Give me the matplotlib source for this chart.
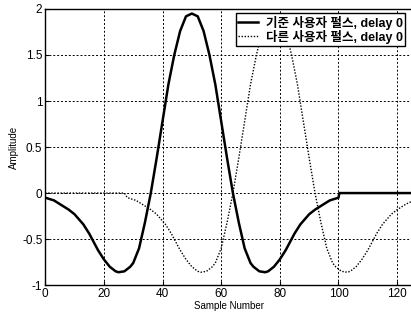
import matplotlib
matplotlib.use("Agg")
import matplotlib.pyplot as plt

# Reference user pulse (solid)
ref_x = [0, 3, 5, 8, 10, 13, 15, 17, 18, 20, 22, 24, 25, 27, 29, 30, 32, 34, 36, 38, 40, 42, 44, 46, 48, 50,
         52, 54, 56, 58, 60, 62, 64, 66, 68, 70, 71, 73, 75, 76, 78, 80, 82, 83, 85, 87, 90, 92, 95, 97, 100, 100.3, 125]
ref_y = [-0.05, -0.08, -0.12, -0.18, -0.23, -0.34, -0.44, -0.56, -0.62, -0.72, -0.80, -0.85, -0.86, -0.85,
         -0.80, -0.76, -0.60, -0.32,
         0.0, 0.38, 0.78, 1.18, 1.50, 1.76, 1.92, 1.95,
         1.92, 1.76, 1.50, 1.18, 0.78, 0.38, 0.0, -0.32, -0.60, -0.76, -0.80, -0.85, -0.86, -0.85, -0.80,
         -0.72, -0.62, -0.56, -0.44, -0.34, -0.23, -0.18, -0.12, -0.08, -0.05, 0.0, 0.0]

# Other user pulse (dotted)
oth_x = [0, 27, 28, 31, 33, 36, 38, 41, 43, 45, 46, 48, 50, 52, 53, 55, 57, 58, 60, 62, 64, 66, 68, 70, 72, 74, 76,
         78, 80, 82, 84, 86, 88, 90, 92, 94, 96, 98, 99, 101, 103, 104, 106, 108, 110, 111, 113, 115, 118, 120, 123, 125]
oth_y = [0.0, 0.0, -0.05, -0.08, -0.12, -0.18, -0.23, -0.34, -0.44, -0.56, -0.62, -0.72, -0.80, -0.85, -0.86,
         -0.85, -0.80, -0.76,
         -0.60, -0.32, 0.0, 0.38, 0.78, 1.18, 1.50, 1.76, 1.92,
         1.95, 1.92, 1.76, 1.50, 1.18, 0.78, 0.38, 0.0, -0.32, -0.60, -0.76, -0.80, -0.85, -0.86, -0.85,
         -0.80, -0.72, -0.62, -0.56, -0.44, -0.34, -0.23, -0.18, -0.12, -0.09]

legend_labels = ["기준 사용자 펄스, delay 0", "다른 사용자 펄스, delay 0"]
xticks = [0, 20, 40, 60, 80, 100, 120]
yticks = [-1, -0.5, 0, 0.5, 1, 1.5, 2]
ytick_labels = ["-1", "-0.5", "0", "0.5", "1", "1.5", "2"]

plt.rcParams['font.family'] = ['Liberation Sans', 'Noto Sans CJK KR', 'DejaVu Sans']

fig = plt.figure(figsize=(4.11, 3.20), dpi=100)
ax = fig.add_axes([0.110, 0.109, 0.892, 0.863])

ax.plot(ref_x, ref_y, color='black', linewidth=1.8, linestyle='-', label=legend_labels[0])
ax.plot(oth_x, oth_y, color='black', linewidth=1.0, linestyle=(0, (1, 1.2)), label=legend_labels[1])

ax.set_xlim(0, 125)
ax.set_ylim(-1, 2)
ax.set_xticks(xticks)
ax.set_yticks(yticks)
ax.set_yticklabels(ytick_labels)
ax.tick_params(direction='in', length=3, labelsize=8.5, colors='black', pad=2)
ax.grid(True, color='black', linestyle=(0, (2, 2)), linewidth=0.7)
for s in ax.spines.values():
    s.set_color('black')
    s.set_linewidth(1.0)

ax.set_xlabel("Sample Number", fontsize=7, labelpad=1)
ax.set_ylabel("Amplitude", fontsize=7, labelpad=2)

leg = ax.legend(loc='upper right', bbox_to_anchor=(0.982, 0.985),
                prop={'size': 9, 'weight': 'bold'},
                frameon=True, fancybox=False, edgecolor='black', framealpha=1,
                handlelength=1.6, handletextpad=0.6, borderpad=0.2, labelspacing=0.0,
                borderaxespad=0)
leg.get_frame().set_linewidth(1.0)

fig.savefig("out.png", dpi=100)
